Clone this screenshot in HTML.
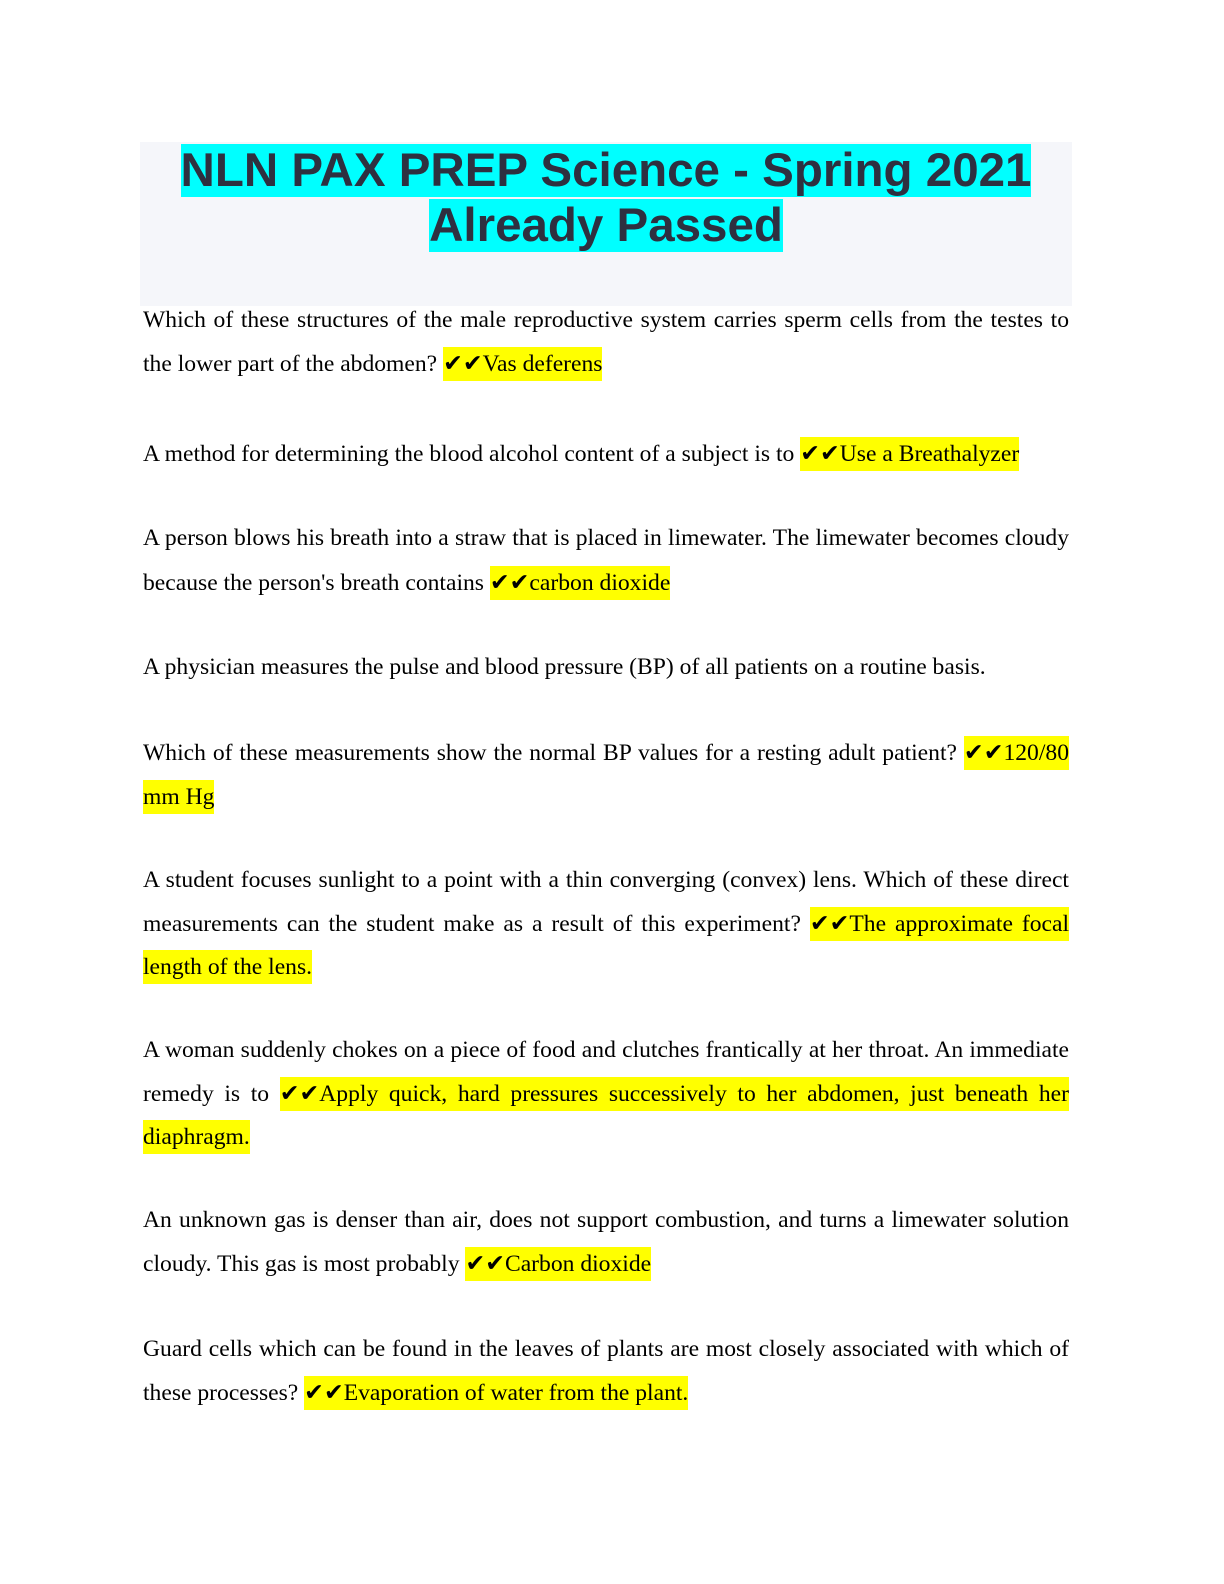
<!DOCTYPE html>
<html><head><meta charset="utf-8"><style>
body{margin:0;width:1224px;height:1584px;background:#fff;position:relative;font-family:"Liberation Serif",serif;color:#000}
.hd{position:absolute;left:140px;top:142px;width:932px;height:164px;background:#f5f6fa}
.t{position:absolute;left:140px;width:932px;text-align:center;font-family:"Liberation Sans",sans-serif;font-weight:bold;font-size:47.5px;color:#2e3040;line-height:55px}
.t span{background:#00ffff}
.l{position:absolute;left:143px;width:926px;font-size:23.6px;line-height:44px;white-space:nowrap}
.j{text-align:justify;text-align-last:justify;white-space:normal}
.h{background:#ffff00;padding:4px 0}
</style></head><body>
<div class="hd"></div>
<div class="t" style="top:143px"><span>NLN PAX PREP Science - Spring 2021</span></div>
<div class="t" style="top:198px"><span>Already Passed</span></div>

<div class="l j" style="top:298px">Which of these structures of the male reproductive system carries sperm cells from the testes to</div>
<div class="l" style="top:342px">the lower part of the abdomen? <span class="h">✔✔Vas deferens</span></div>

<div class="l" style="top:432px">A method for determining the blood alcohol content of a subject is to <span class="h">✔✔Use a Breathalyzer</span></div>

<div class="l j" style="top:516px">A person blows his breath into a straw that is placed in limewater. The limewater becomes cloudy</div>
<div class="l" style="top:561px">because the person's breath contains <span class="h">✔✔carbon dioxide</span></div>

<div class="l" style="top:645px">A physician measures the pulse and blood pressure (BP) of all patients on a routine basis.</div>

<div class="l j" style="top:731px">Which of these measurements show the normal BP values for a resting adult patient? <span class="h">✔✔120/80</span></div>
<div class="l" style="top:775px"><span class="h">mm Hg</span></div>

<div class="l j" style="top:858px">A student focuses sunlight to a point with a thin converging (convex) lens. Which of these direct</div>
<div class="l j" style="top:902px">measurements can the student make as a result of this experiment? <span class="h">✔✔The approximate focal</span></div>
<div class="l" style="top:945px"><span class="h">length of the lens.</span></div>

<div class="l j" style="top:1028px">A woman suddenly chokes on a piece of food and clutches frantically at her throat. An immediate</div>
<div class="l j" style="top:1072px">remedy is to <span class="h">✔✔Apply quick, hard pressures successively to her abdomen, just beneath her</span></div>
<div class="l" style="top:1115px"><span class="h">diaphragm.</span></div>

<div class="l j" style="top:1198px">An unknown gas is denser than air, does not support combustion, and turns a limewater solution</div>
<div class="l" style="top:1242px">cloudy. This gas is most probably <span class="h">✔✔Carbon dioxide</span></div>

<div class="l j" style="top:1327px">Guard cells which can be found in the leaves of plants are most closely associated with which of</div>
<div class="l" style="top:1371px">these processes? <span class="h">✔✔Evaporation of water from the plant.</span></div>
</body></html>
